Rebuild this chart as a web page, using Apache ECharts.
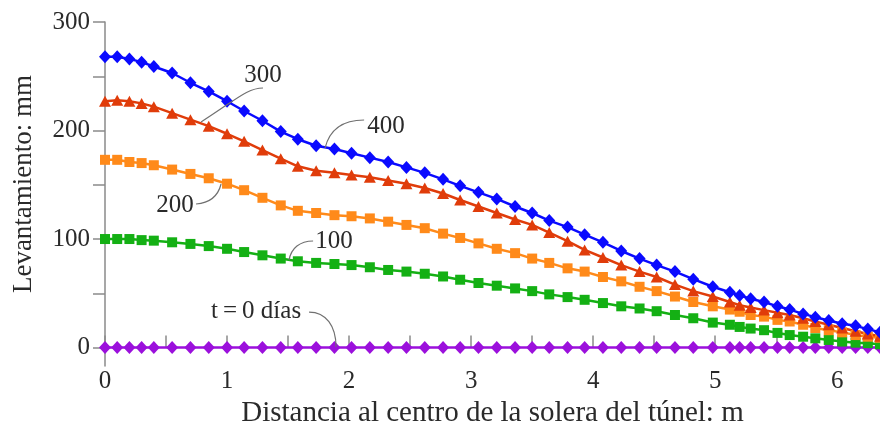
<!DOCTYPE html>
<html>
<head>
<meta charset="utf-8">
<script src="https://cdn.jsdelivr.net/npm/echarts@6/dist/echarts.min.js"></script>
<style>
  html, body { margin: 0; padding: 0; background: #fff; }
  #chart { width: 880px; height: 431px; }
</style>
</head>
<body>
<div id="chart"></div>
<script>
// Distance from the tunnel invert centre (m)
const distance = [0, 0.1, 0.2, 0.3, 0.4, 0.55, 0.7, 0.85, 1.0, 1.14, 1.29, 1.44, 1.58, 1.73, 1.88, 2.02,
  2.17, 2.32, 2.47, 2.62, 2.77, 2.91, 3.06, 3.21, 3.36, 3.50, 3.64, 3.79, 3.93, 4.08, 4.23, 4.38, 4.52,
  4.67, 4.82, 4.98, 5.12, 5.20, 5.29, 5.40, 5.51, 5.61, 5.72, 5.82, 5.93, 6.04, 6.15, 6.25, 6.35];

// Heave (mm) at each time step
const heave0 = distance.map(() => 0);
const heave100 = [100, 100, 100, 99, 98.5, 97, 95.5, 93.5, 91, 88, 85, 82, 79.5, 78, 77, 76,
  74, 71.5, 70, 68, 65.5, 62.5, 59.5, 57, 54.5, 52, 49, 46.5, 44, 41, 38, 36, 33.5,
  30, 27, 23, 21, 19, 17.5, 16, 13.5, 11.5, 10, 8.5, 7, 5.5, 4.5, 4, 3];
const heave200 = [173, 173, 171, 170, 168, 164, 160, 156, 151, 145, 138, 131, 126, 124, 122, 121,
  119, 116, 113, 110, 105, 101, 96, 91, 87, 82, 78, 73, 70, 65, 61, 56, 52,
  47, 42, 38, 35, 33, 30, 28.5, 25.5, 24, 21, 18, 16, 14, 11.5, 10, 9];
const heave300 = [227, 228, 227, 225, 222, 216, 210, 204, 197, 190, 182, 174, 167, 163, 161, 159,
  157, 154, 151, 147, 142, 136, 130, 124, 118, 113, 106, 98, 90, 83, 76, 70, 65,
  58, 52, 47, 42, 39, 37, 34.5, 32, 30, 27, 24, 21, 18, 15, 12.5, 10.5];
const heave400 = [268, 268, 266, 263, 259, 253, 244, 236, 227, 218, 209, 199, 192, 186, 183, 179,
  175, 171, 166, 161, 155, 149, 143, 137, 130, 124, 117, 111, 104, 97, 89, 82, 76,
  70, 63, 56, 51, 48, 45, 42, 38, 35, 31, 28, 25, 22, 20, 17, 14];

const xTicks = [0, 0.5, 1, 1.5, 2, 2.5, 3, 3.5, 4, 4.5, 5, 5.5, 6];
const xLabels = [0, 1, 2, 3, 4, 5, 6];
const yTicks = [0, 50, 100, 150, 200, 250, 300];
const yLabels = [0, 100, 200, 300];

// Curve labels with leader lines, in axis units: text anchor, then bezier start, controls, end
const callouts = [
  { text: '300', at: [1.295, 251.2], path: [[1.295, 239.2], [1.172, 239.2], [1.090, 229.9], [0.787, 207.8]] },
  { text: '400', at: [2.303, 204.1], path: [[2.123, 209.7], [1.967, 209.7], [1.844, 202.3], [1.803, 183.9]] },
  { text: '200', at: [0.574, 131.3], path: [[0.746, 132.3], [0.861, 133.2], [0.926, 139.6], [0.951, 150.7]] },
  { text: '100', at: [1.877, 98.2], path: [[1.705, 98.2], [1.598, 98.2], [1.525, 91.7], [1.508, 80.6]] },
  { text: 't\u2009=\u20090 días', at: [1.238, 33.6], path: [[1.672, 32.7], [1.811, 32.7], [1.893, 19.8], [1.893, 0.5]] }
];

const FONT = '"Liberation Serif", "Times New Roman", serif';
const TEXT = '#2a2a2a';
const AXIS = '#8a8a8a';

const pairs = (ys) => distance.map((x, i) => [x, ys[i]]);

function lineSeries(name, ys, color, symbol, size) {
  return {
    name, type: 'line', data: pairs(ys), symbol, symbolSize: size,
    lineStyle: { color, width: 2.5 }, itemStyle: { color },
    clip: false, silent: true
  };
}

const chart = echarts.init(document.getElementById('chart'), null, { renderer: 'canvas' });
chart.setOption({
  animation: false,
  backgroundColor: '#fff',
  grid: { left: 105, right: 0, top: 22, bottom: 65, containLabel: false, outerBoundsMode: 'none' },
  xAxis: {
    type: 'value', min: 0, max: 6.35,
    axisLine: { show: false },
    axisTick: { show: true, inside: true, length: 12, customValues: xTicks, lineStyle: { color: AXIS, width: 1.5 } },
    axisLabel: { customValues: xLabels, margin: 3, color: TEXT, fontFamily: FONT, fontSize: 25 },
    splitLine: { show: false },
    name: 'Distancia al centro de la solera del túnel: m',
    nameLocation: 'middle', nameGap: 33,
    nameTextStyle: { color: TEXT, fontFamily: FONT, fontSize: 29 }
  },
  yAxis: {
    type: 'value', min: -17, max: 300,
    axisLine: { show: true, lineStyle: { color: AXIS, width: 1.5 } },
    axisTick: { show: true, length: 12, customValues: yTicks, lineStyle: { color: AXIS, width: 1.5 } },
    axisLabel: { customValues: yLabels, margin: 15, color: TEXT, fontFamily: FONT, fontSize: 25 },
    splitLine: { show: false },
    name: 'Levantamiento: mm',
    nameLocation: 'middle', nameGap: 68, nameRotate: 90,
    nameTextStyle: { color: TEXT, fontFamily: FONT, fontSize: 27, padding: [0, 0, 0, 20] }
  },
  series: [
    lineSeries('0', heave0, '#9b10dc', 'diamond', [12, 13]),
    lineSeries('100', heave100, '#14b014', 'rect', [10, 10]),
    lineSeries('200', heave200, '#ff8a1a', 'rect', [10, 10]),
    lineSeries('300', heave300, '#e03c0a', 'triangle', [12, 11]),
    lineSeries('400', heave400, '#0a0aff', 'diamond', [12, 13]),
    {
      type: 'custom', silent: true, clip: false, z: 5,
      data: callouts.map(c => c.at),
      renderItem(params, api) {
        const c = callouts[params.dataIndex];
        const t = api.coord(c.at);
        const p = c.path.map(q => api.coord(q));
        return {
          type: 'group',
          children: [
            {
              type: 'bezierCurve',
              shape: { x1: p[0][0], y1: p[0][1], cpx1: p[1][0], cpy1: p[1][1], cpx2: p[2][0], cpy2: p[2][1], x2: p[3][0], y2: p[3][1] },
              style: { stroke: '#707070', lineWidth: 1.2, fill: null }
            },
            {
              type: 'text', x: t[0], y: t[1],
              style: { text: c.text, align: 'center', verticalAlign: 'middle', fill: TEXT, font: '25px ' + FONT }
            }
          ]
        };
      }
    }
  ]
});
</script>
</body>
</html>
